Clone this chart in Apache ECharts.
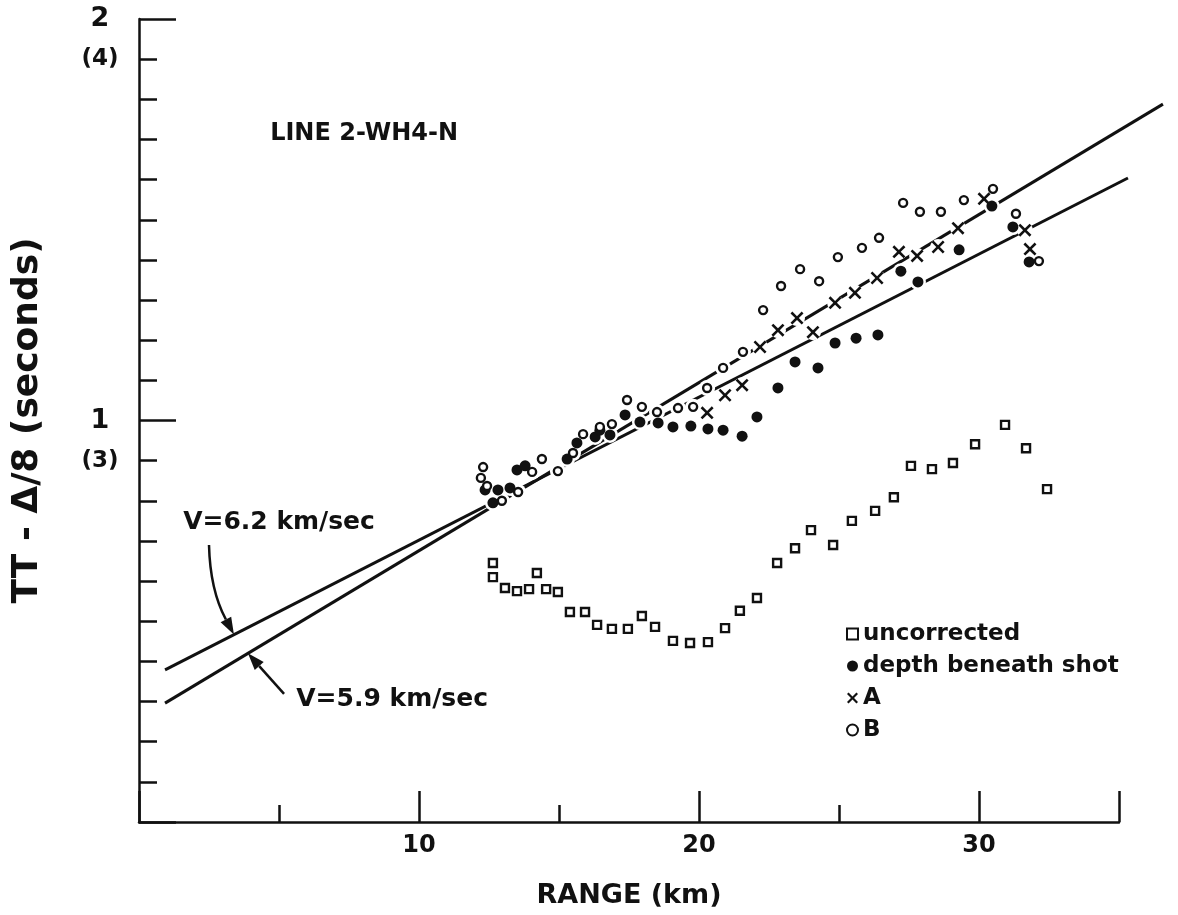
<!DOCTYPE html>
<html>
<head>
<meta charset="utf-8">
<script src="https://cdn.jsdelivr.net/npm/echarts@6/dist/echarts.min.js"></script>
<style>html,body{margin:0;padding:0;background:#fff}#c{width:1178px;height:915px}</style>
</head>
<body>
<div id="c"></div>
<script>
// ---------------- data ----------------
const uncorrectedRange = [12.64,12.64,13.07,13.50,13.93,14.21,14.54,14.96,15.39,15.93,16.36,16.89,17.46,17.96,18.43,19.07,19.68,20.32,20.93,21.46,22.07,22.79,23.43,24.00,24.79,25.46,26.29,26.96,27.57,28.32,29.07,29.86,30.93,31.68,32.43];
const uncorrectedTime  = [0.645,0.610,0.583,0.575,0.580,0.620,0.580,0.573,0.523,0.523,0.491,0.481,0.481,0.513,0.486,0.451,0.446,0.448,0.483,0.526,0.558,0.645,0.682,0.727,0.690,0.750,0.775,0.809,0.887,0.879,0.894,0.941,0.989,0.931,0.829];

const depthRange = [12.36,12.64,12.82,13.25,13.50,13.79,15.29,15.64,16.29,16.46,16.82,17.36,17.89,18.54,19.07,19.71,20.32,20.86,21.54,22.07,22.82,23.43,24.25,24.86,25.61,26.39,27.21,27.82,29.29,30.46,31.21,31.79];
const depthTime  = [0.827,0.795,0.827,0.832,0.877,0.887,0.904,0.944,0.959,0.976,0.964,1.014,0.996,0.994,0.984,0.986,0.979,0.976,0.961,1.009,1.081,1.146,1.131,1.193,1.205,1.213,1.372,1.345,1.425,1.534,1.482,1.395];

const aRange = [20.29,20.93,21.54,22.18,22.82,23.50,24.07,24.86,25.57,26.36,27.14,27.79,28.54,29.25,30.18,31.64,31.82];
const aTime  = [1.019,1.063,1.088,1.183,1.225,1.255,1.220,1.293,1.318,1.355,1.420,1.410,1.432,1.479,1.552,1.474,1.427];

const bRange = [12.29,12.21,12.43,12.96,13.54,14.04,14.39,14.96,15.50,15.86,16.46,16.89,17.43,17.96,18.50,19.25,19.79,20.29,20.86,21.57,22.29,22.93,23.61,24.29,24.96,25.82,26.43,27.29,27.89,28.64,29.46,30.50,31.32,32.14];
const bTime  = [0.884,0.857,0.837,0.800,0.822,0.872,0.904,0.874,0.919,0.966,0.984,0.991,1.051,1.034,1.021,1.031,1.034,1.081,1.131,1.171,1.275,1.335,1.377,1.347,1.407,1.430,1.455,1.542,1.520,1.520,1.549,1.577,1.515,1.397];

// velocity lines (end points)
const v62Range = [0.93, 35.32];
const v62Time  = [0.379, 1.604];
const v59Range = [0.93, 36.57];
const v59Time  = [0.296, 1.788];

// series names / legend
const seriesNames = ['uncorrected', 'depth beneath shot', 'A', 'B'];

// tick labels
const xLabelValues = [10, 20, 30];
const yLabelValues = [2, 1.9, 1, 0.9];
const yLabelTexts  = ['2', '(4)', '1', '(3)'];

// annotation anchors (data coordinates)
const titleText = 'LINE 2-WH4-N';
const titleAt = [8.04, 1.713];
const label62Text = 'V=6.2 km/sec';
const label62At = [5.0, 0.745];
const arrow62 = [[2.50, 0.690], [2.54, 0.578], [2.96, 0.523], [3.39, 0.467]];
const label59Text = 'V=5.9 km/sec';
const label59At = [9.04, 0.306];
const arrow59 = [[5.18, 0.319], [3.89, 0.420]];

// ---------------- chart ----------------
const FONT = 'DejaVu Sans';
const INK = '#111';
const zip = (xs, ys) => xs.map((x, i) => [x, ys[i]]);
const xSymbol = 'path://M0,1.4L1.4,0L5,3.6L8.6,0L10,1.4L6.4,5L10,8.6L8.6,10L5,6.4L1.4,10L0,8.6L3.6,5Z';

const chart = echarts.init(document.getElementById('c'), null, {renderer: 'canvas'});

const yFmt = v => {
  const k = Math.round(v * 10);
  for (let i = 0; i < yLabelValues.length; i++) {
    if (Math.round(yLabelValues[i] * 10) === k) {
      return (yLabelTexts[i].charAt(0) === '(' ? '{b|' : '{a|') + yLabelTexts[i] + '}';
    }
  }
  return '';
};

const haloData = zip(depthRange, depthTime).concat(zip(aRange, aTime), zip(bRange, bTime));

const option = {
  animation: false,
  backgroundColor: '#fff',
  grid: {left: 139, right: 59, top: 19, bottom: 93, outerBoundsMode: 'none'},
  xAxis: [
    {
      type: 'value', min: 0, max: 35, interval: 5, position: 'bottom',
      axisLine: {lineStyle: {color: INK, width: 2.5}},
      axisTick: {inside: true, length: 17, lineStyle: {color: INK, width: 2.5}},
      axisLabel: {margin: 12, color: INK, fontFamily: FONT, fontWeight: 'bold', fontSize: 24,
        formatter: v => (xLabelValues.indexOf(Math.round(v)) >= 0 ? String(Math.round(v)) : '')},
      splitLine: {show: false},
      name: 'RANGE (km)', nameLocation: 'middle', nameGap: 60,
      nameTextStyle: {color: INK, fontFamily: FONT, fontWeight: 'bold', fontSize: 27}
    },
    {
      type: 'value', min: 0, max: 35, interval: 10, position: 'bottom',
      axisLine: {show: false},
      axisTick: {inside: true, length: 31, lineStyle: {color: INK, width: 2.5}},
      axisLabel: {show: false}, splitLine: {show: false}
    }
  ],
  yAxis: [
    {
      type: 'value', min: 0, max: 2, interval: 0.1, position: 'left',
      axisLine: {lineStyle: {color: INK, width: 2.5}},
      axisTick: {inside: true, length: 18, lineStyle: {color: INK, width: 2.5}},
      axisLabel: {margin: 39, align: 'center', color: INK, fontFamily: FONT, fontWeight: 'bold',
        formatter: yFmt,
        rich: {
          a: {fontFamily: FONT, fontWeight: 'bold', fontSize: 27, color: INK},
          b: {fontFamily: FONT, fontWeight: 'bold', fontSize: 23, color: INK}
        }},
      splitLine: {show: false},
      name: 'TT - Δ/8 (seconds)', nameLocation: 'middle', nameGap: 93, nameRotate: 90,
      nameTextStyle: {color: INK, fontFamily: FONT, fontWeight: 'bold', fontSize: 36}
    },
    {
      type: 'value', min: 0, max: 2, interval: 1, position: 'left',
      axisLine: {show: false},
      axisTick: {inside: true, length: 37, lineStyle: {color: INK, width: 2.5}},
      axisLabel: {show: false}, splitLine: {show: false}
    }
  ],
  legend: {
    data: [
      {name: seriesNames[0]},
      {name: seriesNames[1]},
      {name: seriesNames[2]},
      {name: seriesNames[3]}
    ],
    orient: 'vertical', left: 841, top: 617,
    itemWidth: 11, itemHeight: 11, itemGap: 8,
    textStyle: {color: INK, fontFamily: FONT, fontWeight: 'bold', fontSize: 23, lineHeight: 24},
    selectedMode: false
  },
  series: [
    {
      name: 'halo', type: 'scatter', data: haloData, symbol: 'circle', symbolSize: 16, silent: true,
      itemStyle: {color: '#fff', opacity: 1}, z: 2
    },
    {
      name: seriesNames[0], type: 'scatter', data: zip(uncorrectedRange, uncorrectedTime),
      symbol: 'rect', symbolSize: 8,
      itemStyle: {color: '#fff', borderColor: INK, borderWidth: 2.4, opacity: 1}, z: 3
    },
    {
      name: seriesNames[1], type: 'scatter', data: zip(depthRange, depthTime),
      symbol: 'circle', symbolSize: 11,
      itemStyle: {color: INK, opacity: 1}, z: 3
    },
    {
      name: seriesNames[2], type: 'scatter', data: zip(aRange, aTime),
      symbol: xSymbol, symbolSize: 13,
      itemStyle: {color: INK, opacity: 1}, z: 3
    },
    {
      name: seriesNames[3], type: 'scatter', data: zip(bRange, bTime),
      symbol: 'circle', symbolSize: 8,
      itemStyle: {color: '#fff', borderColor: INK, borderWidth: 2.4, opacity: 1}, z: 4
    }
  ]
};

chart.setOption(option);

// ---------------- lines and annotations placed through the axes ----------------
const px = p => chart.convertToPixel({gridIndex: 0}, p);
function head(tip, from, len, half) {
  const dx = tip[0] - from[0], dy = tip[1] - from[1];
  const d = Math.hypot(dx, dy), ux = dx / d, uy = dy / d;
  const bx = tip[0] - ux * len, by = tip[1] - uy * len;
  return {base: [bx, by], pts: [tip, [bx - uy * half, by + ux * half], [bx + uy * half, by - ux * half]]};
}
const txt = (p, t, size) => ({
  type: 'text', x: p[0], y: p[1], silent: true, z: 10,
  style: {text: t, fill: INK, font: 'bold ' + size + 'px "' + FONT + '"', align: 'center', verticalAlign: 'middle'}
});
const velLine = (xs, ys) => {
  const pts = zip(xs, ys).map(px);
  return {type: 'polyline', silent: true, z: 1, shape: {points: pts}, style: {stroke: INK, lineWidth: 3, fill: null}};
};

const a62 = arrow62.map(px);
const h62 = head(a62[3], a62[2], 17, 6);
const a59 = arrow59.map(px);
const h59 = head(a59[1], a59[0], 17, 6);

chart.setOption({
  graphic: [
    velLine(v62Range, v62Time),
    velLine(v59Range, v59Time),
    txt(px(titleAt), titleText, 24),
    txt(px(label62At), label62Text, 25),
    txt(px(label59At), label59Text, 25),
    {type: 'bezierCurve', silent: true, z: 10,
      shape: {x1: a62[0][0], y1: a62[0][1], cpx1: a62[1][0], cpy1: a62[1][1], cpx2: a62[2][0], cpy2: a62[2][1], x2: h62.base[0], y2: h62.base[1]},
      style: {stroke: INK, lineWidth: 2.5, fill: null}},
    {type: 'polygon', silent: true, z: 10, shape: {points: h62.pts}, style: {fill: INK}},
    {type: 'line', silent: true, z: 10,
      shape: {x1: a59[0][0], y1: a59[0][1], x2: h59.base[0], y2: h59.base[1]},
      style: {stroke: INK, lineWidth: 2.5}},
    {type: 'polygon', silent: true, z: 10, shape: {points: h59.pts}, style: {fill: INK}}
  ]
});
</script>
</body>
</html>
